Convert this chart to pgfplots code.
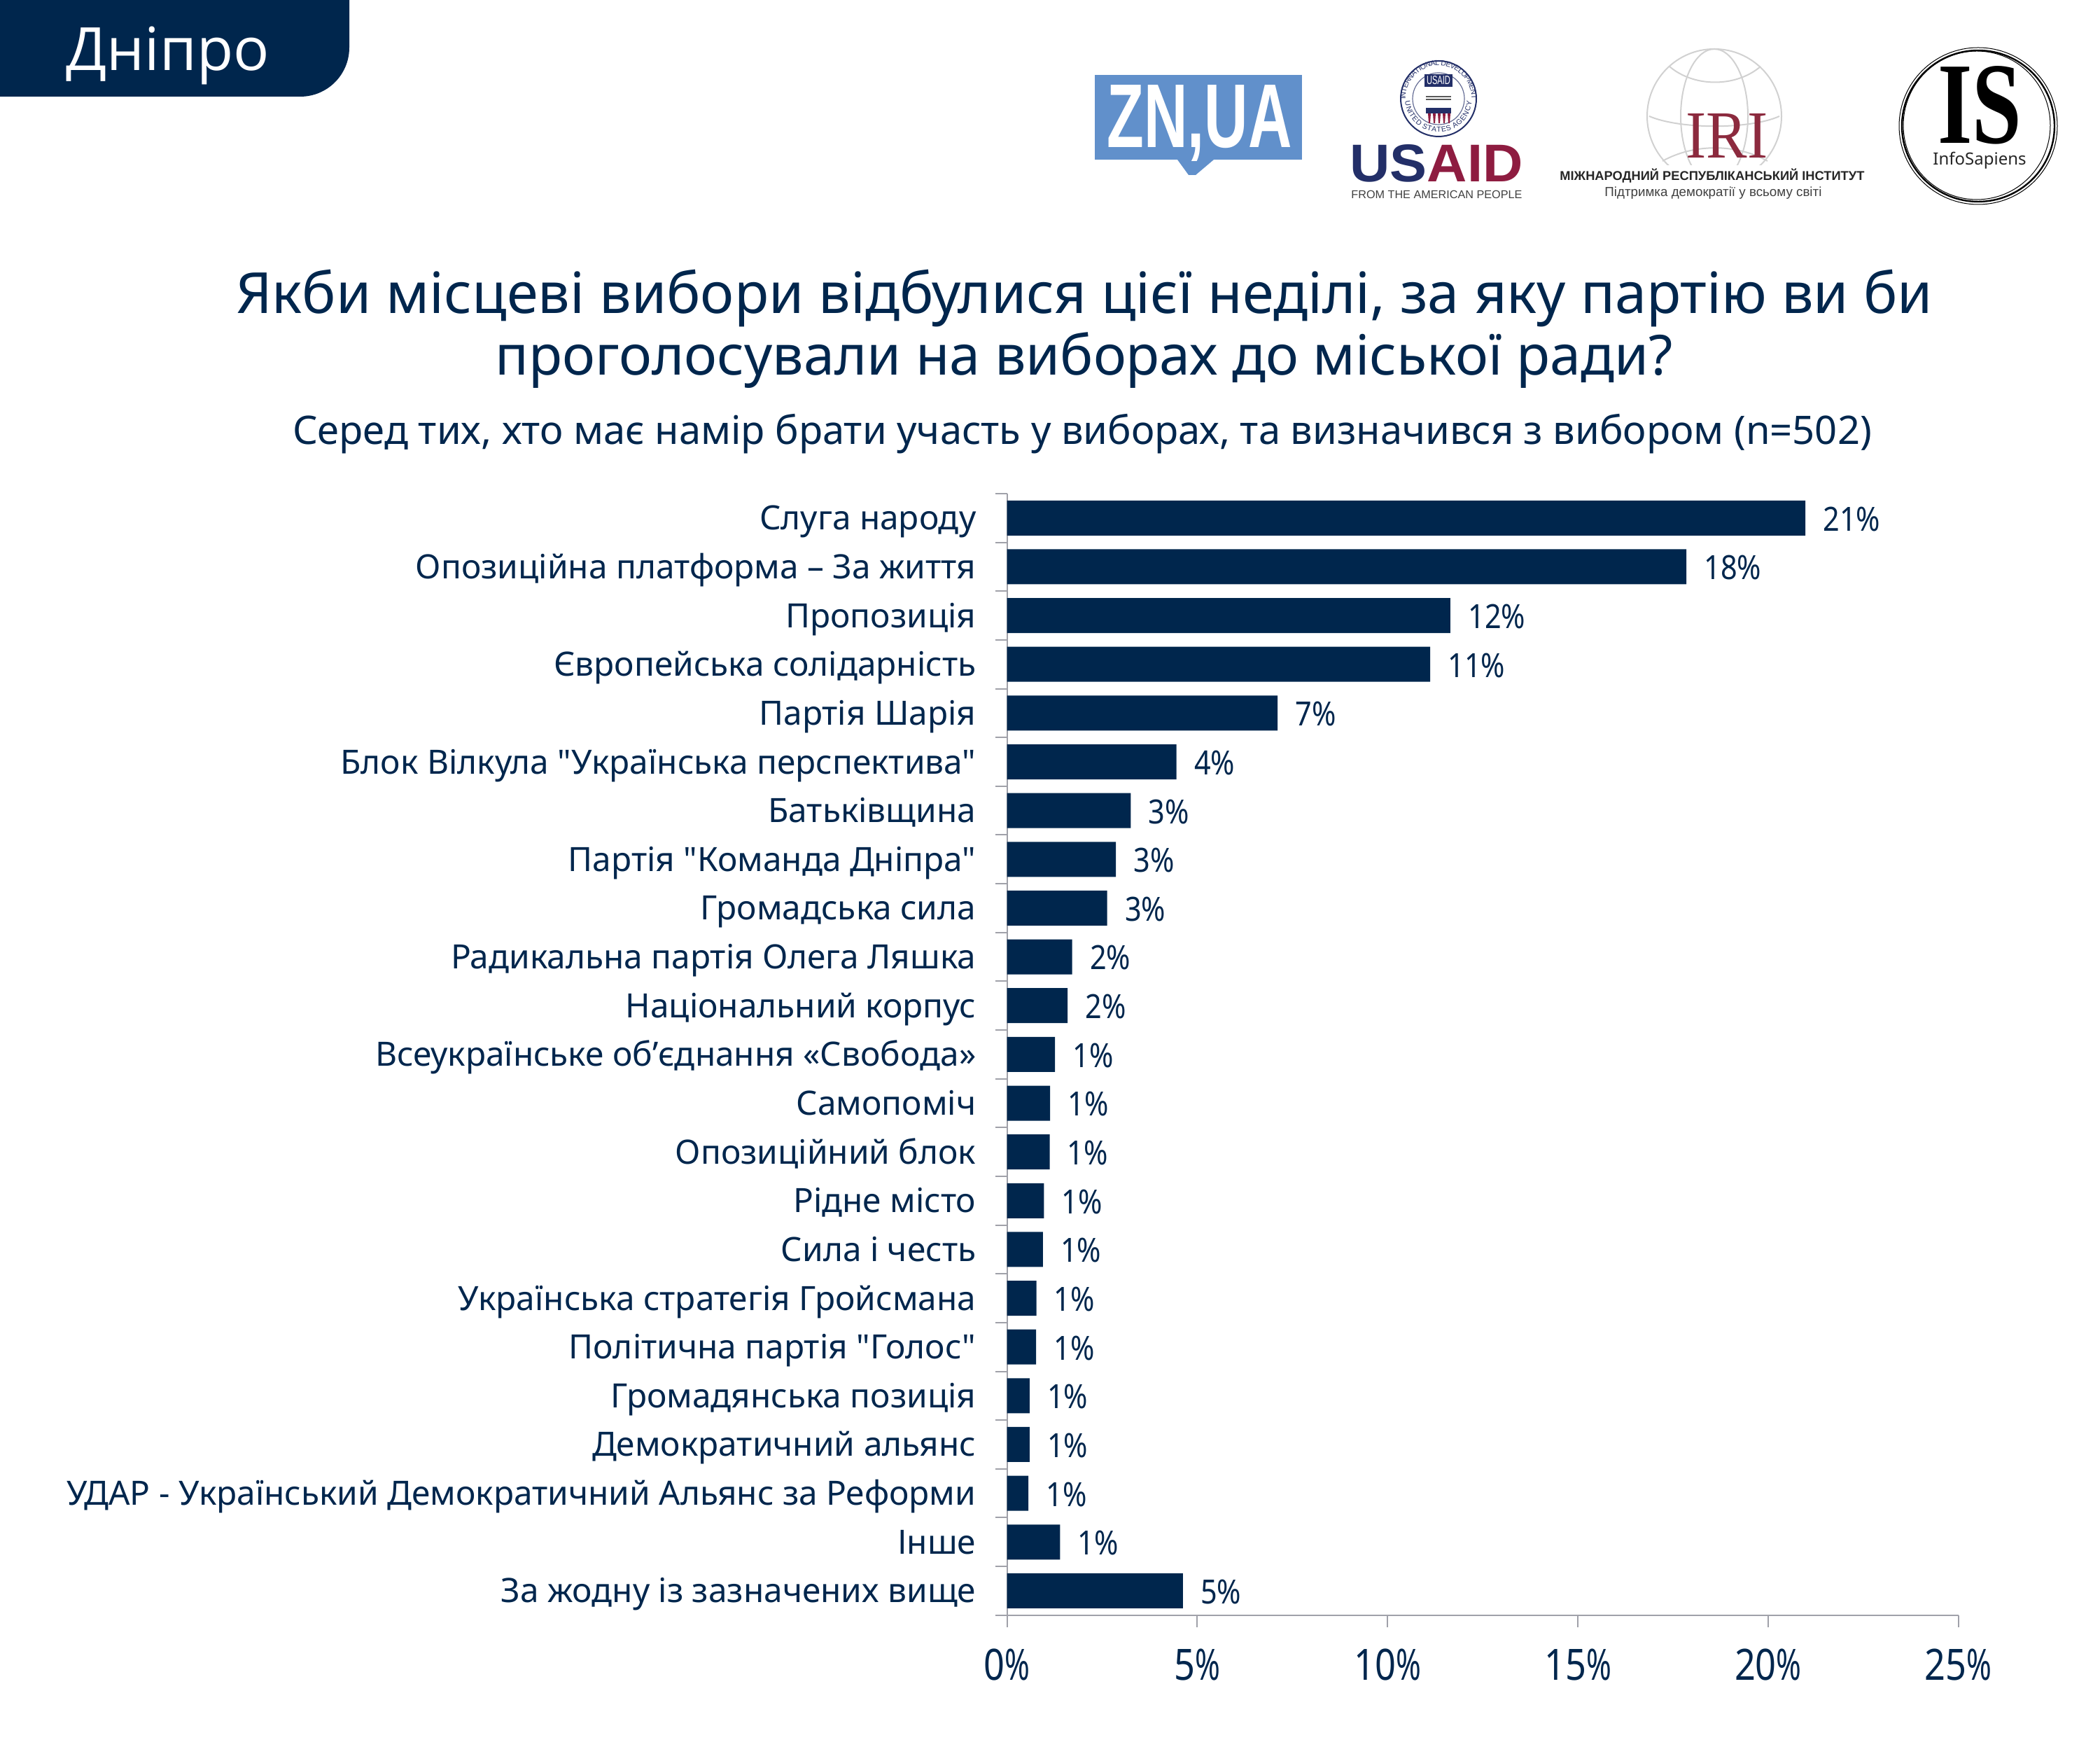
\documentclass[border=0pt]{standalone}
\usepackage{fontspec}
\usepackage{graphicx}
\usepackage{pgfplots}
\usepackage{pgfplotstable}
\pgfplotsset{compat=1.18}
\usetikzlibrary{decorations.text}
\setmainfont{Noto Sans}[Ligatures=TeXOff]
\newfontfamily\sansb{Liberation Sans}
\newfontfamily\serifb{Liberation Serif}
\newfontfamily\tabfont{Open Sans}
\definecolor{navy}{HTML}{00264D}
\definecolor{axgray}{HTML}{A0A1A9}
\definecolor{znblue}{HTML}{6190CB}
\definecolor{usnavy}{HTML}{232F68}
\definecolor{uscrim}{HTML}{8E1C40}
\definecolor{irired}{HTML}{8C2A3E}
\newcommand\fs[1]{\fontsize{#1}{#1}\selectfont}
\newcommand\tk[1]{\scalebox{.85}[1]{#1}\scalebox{.7}[1]{\%}}
\newcommand\vl[1]{\scalebox{.87}[1]{#1\%}}
\pgfplotstableread{
y  val   lab
1  20.98 21
2  17.85 18
3  11.65 12
4  11.12 11
5  7.11  7
6  4.45  4
7  3.25  3
8  2.86  3
9  2.63  3
10 1.71  2
11 1.59  2
12 1.26  1
13 1.13  1
14 1.12  1
15 0.97  1
16 0.94  1
17 0.77  1
18 0.76  1
19 0.59  1
20 0.59  1
21 0.56  1
22 1.39  1
23 4.62  5
}\datatable
\begin{document}
\begin{tikzpicture}
\path[use as bounding box] (0,0) rectangle (1500pt,1242.5pt);
\begin{axis}[
  at={(719.35pt,89.15pt)}, anchor=south west,
  scale only axis, width=679.5pt, height=800.85pt,
  xbar, bar width=25pt,
  xmin=0, xmax=25, ymin=0.5, ymax=23.5, y dir=reverse,
  axis x line*=bottom, axis y line*=left,
  axis line style={axgray, line width=1pt},
  tick align=outside,
  major tick length=0pt, minor tick length=8.5pt,
  minor tick style={axgray, line width=1pt},
  xtick={0,5,10,15,20,25}, minor xtick={0,5,10,15,20,25},
  xticklabels={\tk{0},\tk{5},\tk{10},\tk{15},\tk{20},\tk{25}},
  ytick={1,...,23},
  minor ytick={0.5,1.5,...,23.5},
  yticklabels={Слуга народу,Опозиційна платформа – За життя,Пропозиція,Європейська солідарність,Партія Шарія,Блок Вілкула "Українська перспектива",Батьківщина,Партія "Команда Дніпра",Громадська сила,Радикальна партія Олега Ляшка,Національний корпус,Всеукраїнське об’єднання «Свобода»,Самопоміч,Опозиційний блок,Рідне місто,Сила і честь,Українська стратегія Гройсмана,Політична партія "Голос",Громадянська позиція,Демократичний альянс,УДАР - Український Демократичний Альянс за Реформи,Інше,За жодну із зазначених вище},
  y tick label style={anchor=base east, inner sep=0pt, xshift=-22pt, yshift=-8.5pt, font=\fs{23.9}, text=navy},
  x tick label style={anchor=base, inner sep=0pt, yshift=-46.5pt, font=\fs{30.8}, text=navy},
  clip=false,
  nodes near coords={\vl{\pgfplotspointmeta}},
  point meta=explicit symbolic,
  nodes near coords style={anchor=west, inner sep=0pt, xshift=12.5pt, yshift=-0.7pt, font=\fs{23.8}, text=navy},
]
\addplot[draw=none, fill=navy] table[x=val, y=y, meta=lab] {\datatable};
\end{axis}
\begin{scope}[shift={(0,1242.5pt)}, x=0.5pt, y=-0.5pt]
  % tab
  \fill[navy] (0,0) -- (499,0) -- (499,68) arc[start angle=0, end angle=-90, radius=35pt] -- (0,138) -- cycle;
  \node[anchor=base west, inner sep=0, text=white] at (94,101) {\tabfont\fs{42.6}Дніпро};
  % titles
  \node[anchor=base, inner sep=0, text=navy] at (1549,448) {\fs{40.5}Якби місцеві вибори відбулися цієї неділі, за яку партію ви би};
  \node[anchor=base, inner sep=0, text=navy] at (1549,536) {\fs{39.5}проголосували на виборах до міської ради?};
  \node[anchor=base, inner sep=0, text=navy] at (1546,635) {\fs{28.05}Серед тих, хто має намір брати участь у виборах, та визначився з вибором (n=502)};
  % ZN,UA logo
  \fill[znblue] (1564,107) rectangle (1860,228);
  \fill[znblue] (1682,228) -- (1734,228) -- (1708,250) -- (1698,250) -- cycle;
  \node[anchor=base west, inner sep=0, text=white] at (1581,211) {\resizebox{132pt}{44.5pt}{\sansb\bfseries ZN,UA}};
  % USAID seal
  \draw[usnavy, line width=1pt] (2055,141) circle[radius=54];
  \draw[usnavy!70, line width=.6pt] (2055,141) circle[radius=37];
  \path[postaction={decorate, decoration={text along path, text align=center, raise=-2.4pt, text={|\fontsize{5.2}{6}\selectfont\sansb\color{usnavy}|UNITED STATES AGENCY}}}] (2012,141) arc[start angle=180, end angle=0, radius=43];
  \path[postaction={decorate, decoration={text along path, text align=center, raise=-2.4pt, text={|\fontsize{5.2}{6}\selectfont\sansb\color{usnavy}|INTERNATIONAL DEVELOPMENT}}}] (2003,141) arc[start angle=180, end angle=360, radius=52];
  \fill[usnavy] (2035,106) rectangle (2075,124);
  \node[text=white, inner sep=0] at (2055,115) {\resizebox{17pt}{6pt}{\sansb USAID}};
  \draw[gray!70!black, line width=1pt] (2037,138) -- (2073,138) (2037,142) -- (2073,142);
  \fill[usnavy] (2037,154) rectangle (2073,162);
  \foreach \i in {2040,2047,2054,2061,2068}{\fill[uscrim] (\i,162) -- (\i+4,162) -- (\i+3,176) -- (\i+1,176) -- cycle;}
  % USAID text
  \node[anchor=base west, inner sep=0] at (1928,260) {\resizebox{123.5pt}{26.5pt}{\sansb\bfseries\textcolor{usnavy}{US}\textcolor{uscrim}{AID}}};
  \node[anchor=base west, inner sep=0, text=black!75] at (1930,284) {\resizebox{122pt}{!}{\sansb FROM THE AMERICAN PEOPLE}};
  % IRI logo
  \begin{scope}
    \clip (2340,60) rectangle (2560,236);
    \begin{scope}[black!18, line width=1pt]
      \draw (2449,166) circle[radius=96];
      \draw (2449,166) ellipse[x radius=48, y radius=96];
      \draw (2385,95) .. controls (2420,125) and (2480,125) .. (2515,95);
      \draw (2356,166) .. controls (2400,185) and (2500,185) .. (2542,166);
      \draw (2375,230) .. controls (2420,205) and (2480,205) .. (2525,230);
    \end{scope}
  \end{scope}
  \node[anchor=base west, inner sep=0, text=irired] at (2408,226) {\resizebox{58.5pt}{31.5pt}{\serifb IRI}};
  \node[anchor=base west, inner sep=0, text=black!85] at (2228,258) {\resizebox{217.5pt}{!}{\sansb\bfseries МІЖНАРОДНИЙ РЕСПУБЛІКАНСЬКИЙ ІНСТИТУТ}};
  \node[anchor=base west, inner sep=0, text=black!75] at (2292,281) {\resizebox{155pt}{!}{\sansb Підтримка демократії у всьому світі}};
  % IS logo
  \draw[black, line width=1.2pt] (2826,180) ellipse[x radius=109, y radius=108];
  \draw[black, line width=.5pt] (2826,180) ellipse[x radius=113, y radius=112];
  \draw[black, line width=.5pt] (2824,179) ellipse[x radius=105, y radius=106];
  \node[anchor=base west, inner sep=0, text=black] at (2768,205) {\resizebox{60pt}{55pt}{\serifb\bfseries IS}};
  \node[anchor=base, inner sep=0, text=black!85] at (2828,236) {\fs{12}InfoSapiens};
\end{scope}
\end{tikzpicture}
\end{document}
